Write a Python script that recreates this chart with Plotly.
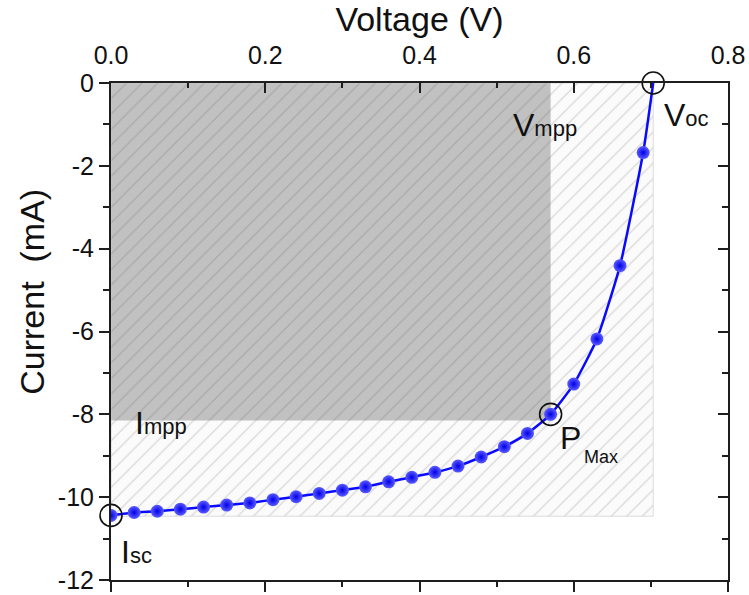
import plotly.graph_objects as go

# ---- data ----
voltage = [0.00, 0.03, 0.06, 0.09, 0.12, 0.15, 0.18, 0.21, 0.24, 0.27,
           0.30, 0.33, 0.36, 0.39, 0.42, 0.45, 0.48, 0.51, 0.54, 0.57,
           0.60, 0.63, 0.66, 0.69, 0.703]
current = [-10.44, -10.37, -10.34, -10.29, -10.24, -10.19, -10.14, -10.06, -9.99, -9.91,
           -9.83, -9.75, -9.63, -9.52, -9.40, -9.25, -9.03, -8.78, -8.46, -8.00,
           -7.27, -6.18, -4.41, -1.68, 0.00]

Vmpp = 0.57
Impp = -8.15
Voc = 0.703
Isc = -10.46
pmax_index = 19

x_ticks = [0.0, 0.2, 0.4, 0.6, 0.8]
y_ticks = [0, -2, -4, -6, -8, -10, -12]

FONT = "Liberation Sans, Arial, sans-serif"
AX = "#1e1e1e"
TXT = "#111111"

fig = go.Figure()

# hatched rectangle (Voc x Isc)
fig.add_trace(go.Scatter(
    x=[0, Voc, Voc, 0, 0], y=[0, 0, Isc, Isc, 0],
    mode="lines", fill="toself",
    line=dict(color="rgba(205,205,205,0.7)", width=1),
    fillcolor="rgba(0,0,0,0)",
    fillpattern=dict(shape="/", size=11, solidity=0.12,
                     fgcolor="rgba(80,80,80,0.4)", bgcolor="rgba(0,0,0,0.015)"),
    hoverinfo="skip", showlegend=False))

# I-V curve line
fig.add_trace(go.Scatter(
    x=voltage, y=current, mode="lines",
    line=dict(color="#0a0aff", width=2.5, shape="spline", smoothing=0.5),
    hoverinfo="skip", showlegend=False))

# measured points (sphere-like markers)
fig.add_trace(go.Scatter(
    x=voltage[:-1], y=current[:-1], mode="markers",
    marker=dict(size=13, color="#5c5cff",
                gradient=dict(type="radial", color="#0000e8"),
                line=dict(width=0)),
    hoverinfo="skip", showlegend=False))

# open circles at Isc, Pmax, Voc
fig.add_trace(go.Scatter(
    x=[voltage[0], voltage[pmax_index], voltage[-1]],
    y=[current[0], current[pmax_index], current[-1]],
    mode="markers", cliponaxis=False,
    marker=dict(symbol="circle-open", size=22, color=TXT,
                line=dict(width=1.6, color=TXT)),
    hoverinfo="skip", showlegend=False))

# dummy trace for the mirrored bottom / right axes
fig.add_trace(go.Scatter(x=[None], y=[None], xaxis="x2", yaxis="y2",
                         showlegend=False, hoverinfo="skip"))

# gray Vmpp x Impp rectangle
fig.add_shape(type="rect", xref="x", yref="y", x0=0, x1=Vmpp, y0=Impp, y1=0,
              fillcolor="#c4c4c4", line=dict(width=0), layer="below")

big = 32
small = 22
ann = dict(showarrow=False, font=dict(family=FONT, size=big, color=TXT))
fig.add_annotation(x=Vmpp, y=0, text=f"V<span style='font-size:{small}px'>mpp</span>",
                   xanchor="center", yanchor="middle", xshift=-6, yshift=-42, **ann)
fig.add_annotation(x=Voc, y=0, text=f"V<span style='font-size:{small}px'>oc</span>",
                   xanchor="left", yanchor="middle", xshift=9, yshift=-32, **ann)
fig.add_annotation(x=0, y=Impp, text=f"I<span style='font-size:{small}px'>mpp</span>",
                   xanchor="left", yanchor="middle", xshift=22, yshift=-2, **ann)
fig.add_annotation(x=0, y=Isc, text=f"I<span style='font-size:{small}px'>sc</span>",
                   xanchor="left", yanchor="middle", xshift=8, yshift=-36, **ann)
fig.add_annotation(x=voltage[pmax_index], y=current[pmax_index], text="P",
                   xanchor="left", yanchor="middle", xshift=7, yshift=-24, **ann)
fig.add_annotation(x=voltage[pmax_index], y=current[pmax_index], text="Max",
                   xanchor="left", yanchor="middle", xshift=31, yshift=-43,
                   showarrow=False, font=dict(family=FONT, size=18, color=TXT))

# y-axis title (placed as an annotation to match the off-centre position)
fig.add_annotation(xref="paper", yref="paper", x=-0.128, y=0.58,
                   text="Current\u00a0 (mA)", textangle=-90, showarrow=False,
                   xanchor="center", yanchor="middle",
                   font=dict(family=FONT, size=34, color=TXT))

common = dict(showgrid=False, zeroline=False, showline=True, linewidth=2,
              linecolor=AX, tickcolor=AX, tickwidth=2, automargin=False)

fig.update_layout(
    width=749, height=595,
    margin=dict(l=111, r=21, t=83, b=15, autoexpand=False),
    paper_bgcolor="white", plot_bgcolor="white",
    font=dict(family=FONT, color=TXT),
    xaxis=dict(range=[0, 0.8], side="top", anchor="y",
               tickvals=x_ticks, ticktext=[f"{v:.1f}" for v in x_ticks],
               ticks="inside", ticklen=10,
               minor=dict(dtick=0.1, ticks="inside", ticklen=5, tickwidth=2, tickcolor=AX),
               tickfont=dict(family=FONT, size=25, color=TXT),
               ticklabelstandoff=7,
               title=dict(text="Voltage (V)", font=dict(family=FONT, size=34, color=TXT),
                          standoff=4),
               **common),
    xaxis2=dict(range=[0, 0.8], side="bottom", overlaying="x", anchor="y",
                tickvals=x_ticks, showticklabels=False,
                ticks="outside", ticklen=10,
                minor=dict(dtick=0.1, ticks="outside", ticklen=5, tickwidth=2, tickcolor=AX),
                **common),
    yaxis=dict(range=[-12, 0], side="left", anchor="x",
               tickvals=y_ticks, ticktext=[str(v) for v in y_ticks],
               ticks="outside", ticklen=10,
               minor=dict(dtick=1, ticks="outside", ticklen=6, tickwidth=2, tickcolor=AX),
               tickfont=dict(family=FONT, size=25, color=TXT),
               **common),
    yaxis2=dict(range=[-12, 0], side="right", overlaying="y", anchor="x",
                tickvals=y_ticks, showticklabels=False,
                ticks="inside", ticklen=10,
                minor=dict(dtick=1, ticks="inside", ticklen=6, tickwidth=2, tickcolor=AX),
                **common),
)

fig.write_html("out.html")
